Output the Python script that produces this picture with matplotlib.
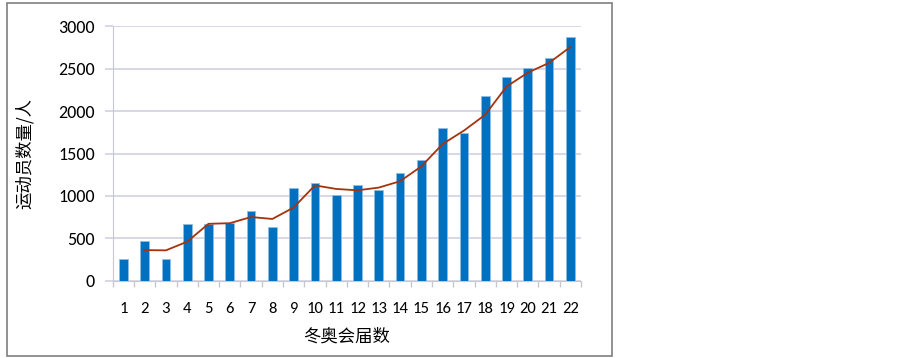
import matplotlib
matplotlib.use("Agg")
import matplotlib.pyplot as plt
from matplotlib.patches import Rectangle
from matplotlib.ticker import FixedLocator, MultipleLocator
import numpy as np

plt.rcParams['font.family'] = ['Carlito', 'Noto Sans CJK SC', 'DejaVu Sans']
cjk = ['Noto Sans CJK SC', 'DejaVu Sans']

# 冬奥会各届运动员人数
editions = [str(i) for i in range(1, 23)]
athletes = [258, 464, 252, 667, 674, 682, 820, 635, 1090, 1157, 1008, 1125,
            1071, 1275, 1420, 1804, 1737, 2177, 2400, 2506, 2632, 2879]
# 两期移动平均趋势线（从第2届开始）
trend = [None, 361, 358, 460, 671, 678, 751, 728, 863, 1124, 1082, 1066,
         1098, 1173, 1348, 1612, 1770, 1957, 2289, 2453, 2569, 2756]

fig = plt.figure(figsize=(9.03, 3.58), dpi=100)
W, H = 903, 358

# 外框
fig.patches.append(Rectangle((7 / W, 1 - 355.5 / H), 605 / W, 352.5 / H,
                             transform=fig.transFigure, fill=False,
                             edgecolor='#7f7f7f', lw=1.2))

ax = fig.add_axes([112.7 / W, 1 - 280.7 / H, (581 - 112.7) / W, 254.4 / H])
x = np.arange(len(editions))
ax.bar(x, athletes, width=0.41, color='#0070C0', edgecolor='#8fbde6',
       linewidth=0.6, zorder=3)

tx = [i for i, v in enumerate(trend) if v is not None]
ty = [v for v in trend if v is not None]
ax.plot(tx, ty, color='#A3340E', lw=1.3, zorder=4)

ax.set_xlim(-0.5, len(editions) - 0.5)
ax.set_ylim(0, 3000)
ax.yaxis.set_major_locator(MultipleLocator(500))
ax.grid(axis='y', color='#d2d2e2', lw=1.2, zorder=0)

ax.set_xticks(x)
ax.set_xticklabels(editions)
ax.xaxis.set_minor_locator(FixedLocator(np.arange(-0.5, len(editions), 1)))
ax.tick_params(axis='x', which='major', length=0, pad=15, labelsize=12)
ax.tick_params(axis='x', which='minor', length=4.5, color='#c8c8d2', width=1)
ax.tick_params(axis='y', length=6, color='#d2d2e2', width=1.2, pad=7, labelsize=13)

for s in ['top', 'right']:
    ax.spines[s].set_visible(False)
ax.spines['left'].set_color('#c8c8d2')
ax.spines['bottom'].set_color('#c8c8d2')

ax.set_ylabel('运动员数量/人', family=cjk, fontsize=12.5)
ax.yaxis.set_label_coords((34 - 112.7) / (581 - 112.7), (280.7 - 153.5) / 254.4)
ax.set_xlabel('冬奥会届数', family=cjk, fontsize=12.5)
ax.xaxis.set_label_coords((346.7 - 112.7) / (581 - 112.7), (280.7 - 336.5) / 254.4)
ax.xaxis.label.set_verticalalignment('center')

fig.savefig('out.png', dpi=100)
